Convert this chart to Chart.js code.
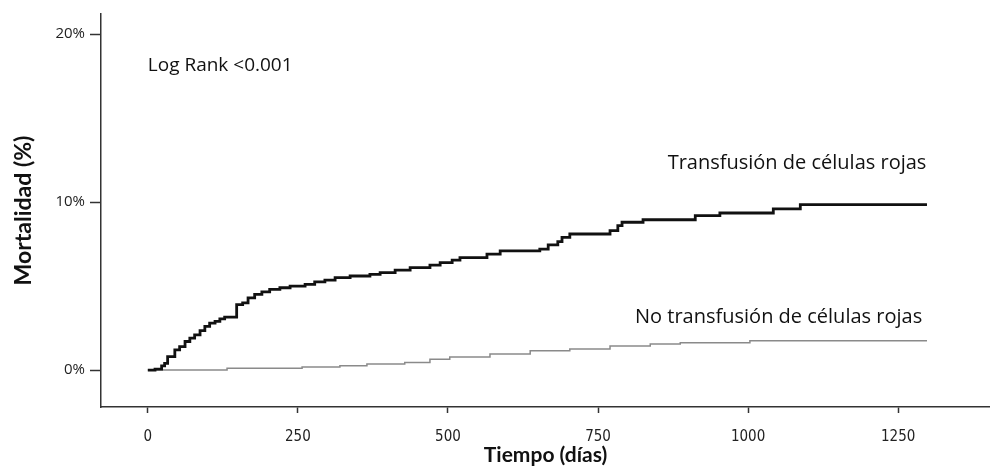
<!DOCTYPE html>
<html>
<head>
<meta charset="utf-8">
<script src="https://cdn.jsdelivr.net/npm/chart.js@4"></script>
<style>
  html, body { margin: 0; padding: 0; background: #fff; }
  #wrap { width: 990px; height: 472px; position: relative; }
</style>
</head>
<body>
<div id="wrap"><canvas id="km"></canvas></div>
<script>
// curvas Kaplan-Meier (dias, % mortalidad)
const diasTransf = [0, 12, 23, 28, 33, 45, 53, 62, 70, 78, 87, 95, 103, 112, 120, 128, 148, 158, 167, 178, 190, 203, 220, 237, 262, 278, 295, 312, 337, 370, 387, 412, 437, 470, 487, 507, 520, 565, 587, 653, 667, 683, 690, 703, 770, 783, 790, 825, 912, 953, 1042, 1087, 1298];
const mortTransf = [0, 0.06, 0.25, 0.4, 0.8, 1.2, 1.4, 1.7, 1.9, 2.1, 2.35, 2.6, 2.8, 2.9, 3.05, 3.15, 3.9, 4.0, 4.3, 4.5, 4.65, 4.8, 4.9, 5.0, 5.1, 5.25, 5.35, 5.5, 5.6, 5.7, 5.8, 5.95, 6.1, 6.25, 6.4, 6.55, 6.7, 6.9, 7.1, 7.2, 7.45, 7.65, 7.9, 8.1, 8.3, 8.6, 8.8, 8.95, 9.2, 9.35, 9.6, 9.85, 9.85];

const diasNoTransf = [0, 132, 257, 320, 365, 428, 470, 503, 570, 637, 703, 770, 837, 887, 1003, 1298];
const mortNoTransf = [0, 0.1, 0.18, 0.25, 0.36, 0.45, 0.65, 0.78, 0.95, 1.15, 1.25, 1.43, 1.55, 1.62, 1.75, 1.75];

const xTicks = [0, 250, 500, 750, 1000, 1250];
const yTicks = [0, 10, 20];

const fuente = "Lato, 'Open Sans', sans-serif";
const fuenteTexto = "'Open Sans', Lato, sans-serif";
const fuenteEstrecha = "'Liberation Sans Narrow', 'DejaVu Sans Condensed', 'Open Sans', sans-serif";
const ejeColor = '#333';

const toPoints = (xs, ys) => xs.map((d, i) => ({ x: d, y: ys[i] }));

// textos dentro del grafico
const textos = {
  id: 'textos',
  afterDatasetsDraw(chart) {
    const ctx = chart.ctx;
    const x = chart.scales.x;
    const y = chart.scales.y;
    ctx.save();
    ctx.fillStyle = '#111';
    ctx.textBaseline = 'middle';
    ctx.font = "19px " + fuenteTexto;
    ctx.textAlign = 'left';
    ctx.fillText('Log Rank <0.001', x.getPixelForValue(0), y.getPixelForValue(18.1));
    ctx.font = "20px " + fuenteTexto;
    ctx.textAlign = 'right';
    ctx.fillText('Transfusión de células rojas', x.getPixelForValue(1297), y.getPixelForValue(12.3));
    ctx.fillText('No transfusión de células rojas', x.getPixelForValue(1290), y.getPixelForValue(3.15));
    ctx.restore();
  }
};

new Chart(document.getElementById('km'), {
  type: 'line',
  data: {
    datasets: [
      {
        label: 'Transfusión de células rojas',
        data: toPoints(diasTransf, mortTransf),
        stepped: 'before',
        borderColor: '#111',
        borderWidth: 2.8,
        pointRadius: 0
      },
      {
        label: 'No transfusión de células rojas',
        data: toPoints(diasNoTransf, mortNoTransf),
        stepped: 'before',
        borderColor: '#8a8a8a',
        borderWidth: 1.5,
        pointRadius: 0
      }
    ]
  },
  options: {
    responsive: true,
    maintainAspectRatio: false,
    animation: false,
    layout: { padding: { top: 13, right: 0, left: 0, bottom: 0 } },
    plugins: { legend: { display: false }, tooltip: { enabled: false } },
    scales: {
      x: {
        type: 'linear',
        min: -78,
        max: 1403,
        afterBuildTicks: (s) => { s.ticks = xTicks.map(v => ({ value: v })); },
        afterFit: (s) => { s.height = 65; },
        border: { display: true, color: ejeColor, width: 1.5 },
        grid: { display: true, drawOnChartArea: false, tickLength: 6, tickColor: ejeColor, tickWidth: 1.5 },
        ticks: { color: '#222', font: { family: fuenteEstrecha, size: 15 }, padding: 15, maxRotation: 0, callback: (v) => String(v) },
        title: { display: true, text: 'Tiempo (días)', color: '#111', font: { family: fuente, size: 21, weight: 'bold' }, padding: { top: 0, bottom: 4 } }
      },
      y: {
        min: -2.2,
        max: 21.2,
        afterBuildTicks: (s) => { s.ticks = yTicks.map(v => ({ value: v })); },
        afterFit: (s) => { s.width = 101; },
        border: { display: true, color: ejeColor, width: 1.5 },
        grid: { display: true, drawOnChartArea: false, tickLength: 11, tickColor: ejeColor, tickWidth: 1.5 },
        ticks: { color: '#222', font: { family: fuenteTexto, size: 15 }, padding: 5, callback: (v) => v + '%' },
        title: { display: true, text: 'Mortalidad (%)', color: '#111', font: { family: fuente, size: 23, weight: 'bold' }, padding: { top: 10, bottom: 0 } }
      }
    }
  },
  plugins: [textos]
});
</script>
</body>
</html>
